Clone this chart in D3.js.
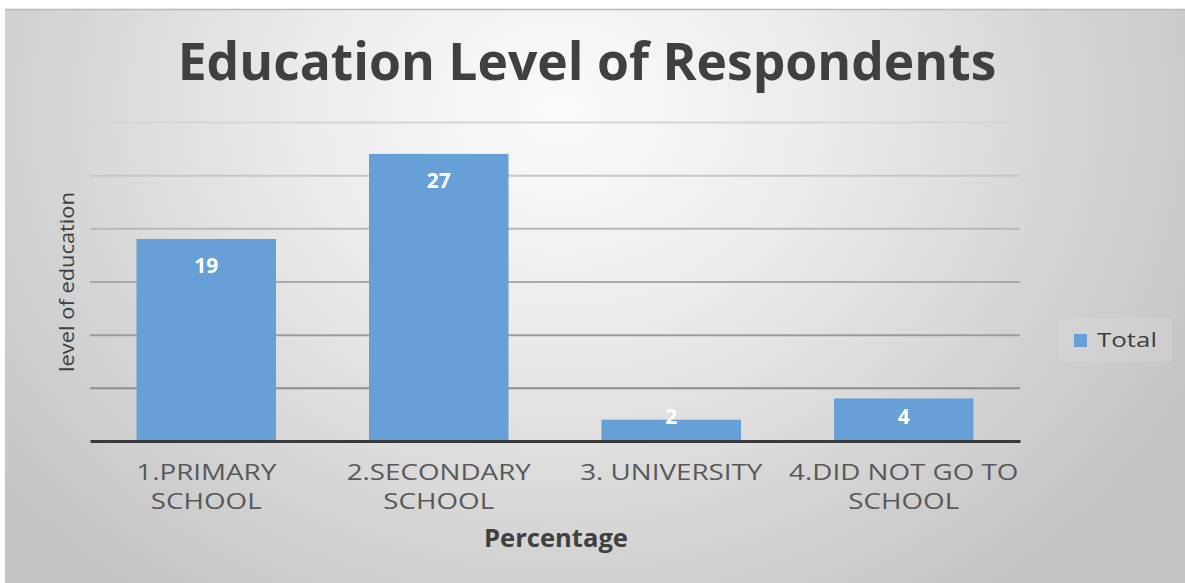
<!DOCTYPE html>
<html>
<head>
<meta charset="utf-8">
<script src="https://cdn.jsdelivr.net/npm/d3@7"></script>
<style>
  html, body { margin: 0; padding: 0; background: #ffffff; }
  svg { display: block; }
</style>
</head>
<body>
<svg id="chart" width="1185" height="583"></svg>
<script>
// Survey data: education level of respondents
const categories = ["1.PRIMARY SCHOOL", "2.SECONDARY SCHOOL", "3. UNIVERSITY", "4.DID NOT GO TO SCHOOL"];
const categoryLines = [["1.PRIMARY", "SCHOOL"], ["2.SECONDARY", "SCHOOL"], ["3. UNIVERSITY"], ["4.DID NOT GO TO", "SCHOOL"]];
const totals = [19, 27, 2, 4];
const yTicks = [0, 5, 10, 15, 20, 25, 30];
const seriesName = "Total";
const titleText = "Education Level of Respondents";
const xTitle = "Percentage";
const yTitle = "level of education";

const W = 1185, H = 583;
const font = "'Open Sans', Lato, sans-serif";
const svg = d3.select("#chart");

// Scale a text element's font size so that it spans the given width
function fitWidth(sel, width) {
  const fs = parseFloat(sel.attr("font-size"));
  const w = sel.node().getComputedTextLength();
  if (w > 0) sel.attr("font-size", fs * width / w);
  return sel;
}
// Text placed inside a group so its glyphs can be widened along the baseline
function wideText(parent, x0, y0, rotate, str, size, weight, anchor, color) {
  const g = parent.append("g");
  const t = g.append("text")
    .attr("text-anchor", anchor)
    .attr("font-family", font).attr("font-size", size).attr("font-weight", weight)
    .attr("fill", color).text(str);
  g.attr("transform", `translate(${x0},${y0}) rotate(${rotate})`);
  return { g, t, width: () => t.node().getComputedTextLength(),
    widen(f) { g.attr("transform", `translate(${x0},${y0}) rotate(${rotate}) scale(${f},1)`); } };
}

// Chart area background: soft radial shading
const defs = svg.append("defs");
const bg = defs.append("radialGradient").attr("id", "bgGrad")
  .attr("gradientUnits", "userSpaceOnUse")
  .attr("cx", 560).attr("cy", 110).attr("r", 720)
  .attr("gradientTransform", "translate(560,110) scale(1,0.85) translate(-560,-110)");
bg.append("stop").attr("offset", "0").attr("stop-color", "#fbfbfb");
bg.append("stop").attr("offset", "0.35").attr("stop-color", "#ececec");
bg.append("stop").attr("offset", "0.75").attr("stop-color", "#d2d2d2");
bg.append("stop").attr("offset", "1").attr("stop-color", "#c4c4c4");

svg.append("rect").attr("x", 5).attr("y", 9).attr("width", W - 5).attr("height", H - 9)
  .attr("fill", "url(#bgGrad)");
svg.append("line").attr("x1", 5).attr("x2", W).attr("y1", 9.5).attr("y2", 9.5)
  .attr("stroke", "#b9b9b9").attr("stroke-width", 1.5);

// Plot area
const plot = { left: 90, right: 1020, top: 122, bottom: 441 };

const x = d3.scaleBand().domain(categories)
  .range([plot.left, plot.right]).paddingInner(0.4).paddingOuter(0.2);
const y = d3.scaleLinear().domain([0, 30]).range([plot.bottom, plot.top]);

// Gridlines, fading toward the top
const gridShade = d3.scaleLinear().domain([5, 30]).range(["#8c8c8c", "#d6d6d6"]);
const grid = svg.append("g")
  .attr("transform", `translate(${plot.left},0)`)
  .call(d3.axisLeft(y).tickValues(yTicks.filter(t => t > 0)).tickSize(-(plot.right - plot.left)).tickFormat(""));
grid.select(".domain").remove();
grid.selectAll(".tick line")
  .attr("stroke", d => gridShade(d)).attr("stroke-width", 2);

// Bars
svg.append("g").selectAll("rect").data(categories).join("rect")
  .attr("x", d => x(d))
  .attr("width", x.bandwidth())
  .attr("y", (d, i) => y(totals[i]))
  .attr("height", (d, i) => y(0) - y(totals[i]))
  .attr("fill", "#67a0d6");

// Category axis
const xAxis = svg.append("g")
  .attr("transform", `translate(0,${y(0)})`)
  .call(d3.axisBottom(x).tickSize(0).tickFormat(""));
xAxis.select(".domain").attr("stroke", "#3a3a3a").attr("stroke-width", 3);

// Category labels, one text per line, widened to the label style
const labelLayer = svg.append("g");
const labels = [];
categories.forEach((c, i) => {
  categoryLines[i].forEach((line, k) => {
    labels.push(wideText(labelLayer, x(c) + x.bandwidth() / 2, 480 + k * 29, 0,
      line, 21, "normal", "middle", "#595959"));
  });
});
{
  const w0 = labels[0].width();
  const f = w0 > 0 ? 140 / w0 : 1;
  labels.forEach(l => l.widen(f));
}

// Value labels inside the bar ends
svg.append("g").selectAll("text").data(categories).join("text")
  .attr("x", d => x(d) + x.bandwidth() / 2)
  .attr("y", (d, i) => Math.min(y(totals[i]) + 26, y(0) - 25) + 8)
  .attr("text-anchor", "middle")
  .attr("font-family", font).attr("font-weight", "bold").attr("font-size", 21)
  .attr("fill", "#ffffff")
  .text((d, i) => totals[i]);

// Titles
fitWidth(svg.append("text")
  .attr("x", 587).attr("y", 80)
  .attr("text-anchor", "middle")
  .attr("font-family", font).attr("font-weight", "bold").attr("font-size", 46)
  .attr("fill", "#404040")
  .text(titleText), 819);

fitWidth(svg.append("text")
  .attr("x", 556).attr("y", 547)
  .attr("text-anchor", "middle")
  .attr("font-family", font).attr("font-weight", "bold").attr("font-size", 20)
  .attr("fill", "#404040")
  .text(xTitle), 144);

{
  const yt = wideText(svg, 74, 282, -90, yTitle, 20, "normal", "middle", "#404040");
  const w = yt.width();
  if (w > 0) yt.widen(180 / w);
}

// Legend
const legend = svg.append("g");
legend.append("rect").attr("x", 1059).attr("y", 318).attr("width", 113).attr("height", 44)
  .attr("fill", "#ffffff").attr("fill-opacity", 0.1);
legend.append("rect").attr("x", 1074).attr("y", 334).attr("width", 13).attr("height", 13)
  .attr("fill", "#67a0d6");
{
  const lt = wideText(legend, 1097, 347, 0, seriesName, 20, "normal", "start", "#404040");
  const w = lt.width();
  if (w > 0) lt.widen(60 / w);
}
</script>
</body>
</html>
